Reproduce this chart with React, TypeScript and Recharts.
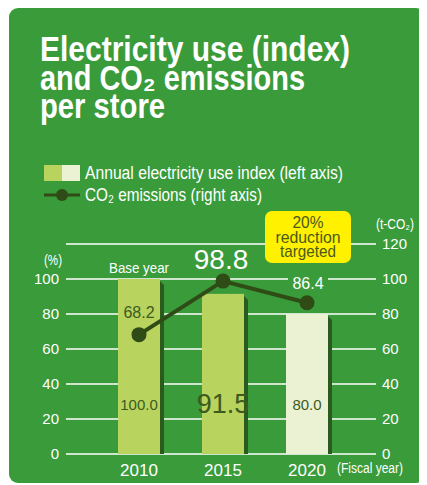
import { Bar, CartesianGrid, ComposedChart, LabelList, Line, XAxis, YAxis } from "recharts";

const years = ["2010", "2015", "2020"];
const electricityIndex = [100.0, 91.5, 80.0];
const co2Emissions = [68.2, 98.8, 86.4];
const leftTicks = [0, 20, 40, 60, 80, 100];
const rightTicks = [0, 20, 40, 60, 80, 100, 120];

const data = years.map((year, i) => ({
  year,
  index: electricityIndex[i],
  co2: co2Emissions[i],
}));

const PANEL = "#3a9b3a";
const BAR_LIGHT = "#b9d35f";
const BAR_PALE = "#ebf1d3";
const SHADOW = "#2b5a1e";
const LINE_DARK = "#2f4b16";
const TEXT_DARK = "#3d5a1e";
const FONT = "'Liberation Sans', Arial, sans-serif";

const W = 419;
const H = 477;

function BarShape(props: any) {
  const { x, y, width, height, payload } = props;
  const fill = payload.year === "2020" ? BAR_PALE : BAR_LIGHT;
  const r = x + width;
  return (
    <g>
      <polygon
        points={`${r},${y + 2} ${r + 4},${y + 6} ${r + 4},${y + height} ${r},${y + height}`}
        fill={SHADOW}
      />
      <rect x={x} y={y} width={width} height={height} fill={fill} />
    </g>
  );
}

function BarValueLabel(props: any) {
  const { x, y, width, height, value, index } = props;
  const cx = x + width / 2;
  const big = index === 1;
  return (
    <g>
      {index === 0 && (
        <text
          x={cx}
          y={y - 12}
          fill="#fff"
          fontSize={15}
          textAnchor="middle"
          dominantBaseline="central"
          textLength={60}
          lengthAdjust="spacingAndGlyphs"
        >
          Base year
        </text>
      )}
      <text
        x={cx}
        y={y + height - 50}
        fill={TEXT_DARK}
        fontSize={big ? 27 : 15}
        textAnchor="middle"
        dominantBaseline="central"
      >
        {Number(value).toFixed(1)}
      </text>
    </g>
  );
}

function LineValueLabel(props: any) {
  const { x, y, value, index } = props;
  const text = Number(value).toFixed(1);
  if (index === 0) {
    return (
      <text x={x} y={y - 22} fill={TEXT_DARK} fontSize={16} textAnchor="middle" dominantBaseline="central">
        {text}
      </text>
    );
  }
  if (index === 1) {
    return (
      <text x={x - 2} y={y - 22} fill="#fff" fontSize={28} textAnchor="middle" dominantBaseline="central">
        {text}
      </text>
    );
  }
  return (
    <g>
      <rect x={x - 19} y={y - 28} width={40} height={18} fill={PANEL} />
      <text x={x + 1} y={y - 19} fill="#fff" fontSize={16} textAnchor="middle" dominantBaseline="central">
        {text}
      </text>
    </g>
  );
}

function YearTick(props: any) {
  const { x, y, payload } = props;
  return (
    <text x={x} y={y + 14} fill="#fff" fontSize={17} textAnchor="middle" dominantBaseline="central">
      {payload.value}
    </text>
  );
}

export default function App() {
  return (
    <div style={{ position: "relative", width: W, height: H, fontFamily: FONT }}>
      {/* panel, title, legend */}
      <svg width={W} height={H} style={{ position: "absolute", left: 0, top: 0 }} fontFamily={FONT}>
        <rect x={1} y={0} width={416} height={475} rx={9} fill={PANEL} />
        <g fill="#fff" fontSize={35} fontWeight="bold">
          <text x={32} y={53} textLength={310} lengthAdjust="spacingAndGlyphs">
            Electricity use (index)
          </text>
          <text x={32} y={81.5} textLength={265} lengthAdjust="spacingAndGlyphs">
            and CO₂ emissions
          </text>
          <text x={32} y={110} textLength={125} lengthAdjust="spacingAndGlyphs">
            per store
          </text>
        </g>
        <rect x={36} y={157} width={18} height={16} fill={BAR_LIGHT} />
        <rect x={54} y={157} width={18} height={16} fill={BAR_PALE} />
        <text x={77} y={171} fill="#fff" fontSize={18} textLength={258} lengthAdjust="spacingAndGlyphs">
          Annual electricity use index (left axis)
        </text>
        <line x1={36} x2={72} y1={187} y2={187} stroke={LINE_DARK} strokeWidth={3} />
        <circle cx={54} cy={187} r={6} fill={LINE_DARK} />
        <text x={77} y={193} fill="#fff" fontSize={18} textLength={177} lengthAdjust="spacingAndGlyphs">
          CO₂ emissions (right axis)
        </text>
      </svg>

      <div style={{ position: "absolute", left: 0, top: 0 }}>
        <ComposedChart
          width={W}
          height={H}
          data={data}
          margin={{ top: 236, right: 6, bottom: 6, left: 8 }}
          barSize={42}
        >
          <CartesianGrid yAxisId="right" vertical={false} stroke="#fff" strokeWidth={1.5} />
          <XAxis
            dataKey="year"
            axisLine={false}
            tickLine={false}
            tickSize={0}
            height={25}
            padding={{ left: 31, right: 27 }}
            tick={<YearTick />}
          />
          <YAxis
            yAxisId="left"
            domain={[0, 120]}
            ticks={leftTicks}
            width={50}
            axisLine={false}
            tickLine={false}
            tickSize={0}
            tickMargin={7}
            tick={{ fill: "#fff", fontSize: 15 }}
          />
          <YAxis
            yAxisId="right"
            orientation="right"
            domain={[0, 120]}
            ticks={rightTicks}
            width={45}
            axisLine={false}
            tickLine={false}
            tickSize={0}
            tickMargin={6}
            tick={{ fill: "#fff", fontSize: 15 }}
          />
          <Bar yAxisId="left" dataKey="index" shape={<BarShape />} isAnimationActive={false}>
            <LabelList dataKey="index" content={<BarValueLabel />} />
          </Bar>
          <Line
            yAxisId="right"
            dataKey="co2"
            stroke={LINE_DARK}
            strokeWidth={4}
            dot={{ r: 7.5, fill: LINE_DARK, stroke: "none" }}
            activeDot={false}
            isAnimationActive={false}
          >
            <LabelList dataKey="co2" content={<LineValueLabel />} />
          </Line>
        </ComposedChart>
      </div>

      {/* annotations above the grid */}
      <svg width={W} height={H} style={{ position: "absolute", left: 0, top: 0, pointerEvents: "none" }} fontFamily={FONT}>
        <rect x={257} y={203} width={86} height={52} rx={7} fill="#fff100" />
        <g fill="#4a5a1a" fontSize={17} textAnchor="middle" dominantBaseline="central">
          <text x={300} y={214} textLength={31} lengthAdjust="spacingAndGlyphs">20%</text>
          <text x={300} y={229} textLength={65} lengthAdjust="spacingAndGlyphs">reduction</text>
          <text x={300} y={243} textLength={56} lengthAdjust="spacingAndGlyphs">targeted</text>
        </g>
        <text x={368} y={216} fill="#fff" fontSize={14} dominantBaseline="central" textLength={38} lengthAdjust="spacingAndGlyphs">
          (t-CO₂)
        </text>
        <text x={36} y={252} fill="#fff" fontSize={14} dominantBaseline="central" textLength={18} lengthAdjust="spacingAndGlyphs">
          (%)
        </text>
        <text x={329} y={460} fill="#fff" fontSize={14} dominantBaseline="central" textLength={66} lengthAdjust="spacingAndGlyphs">
          (Fiscal year)
        </text>
      </svg>
    </div>
  );
}
